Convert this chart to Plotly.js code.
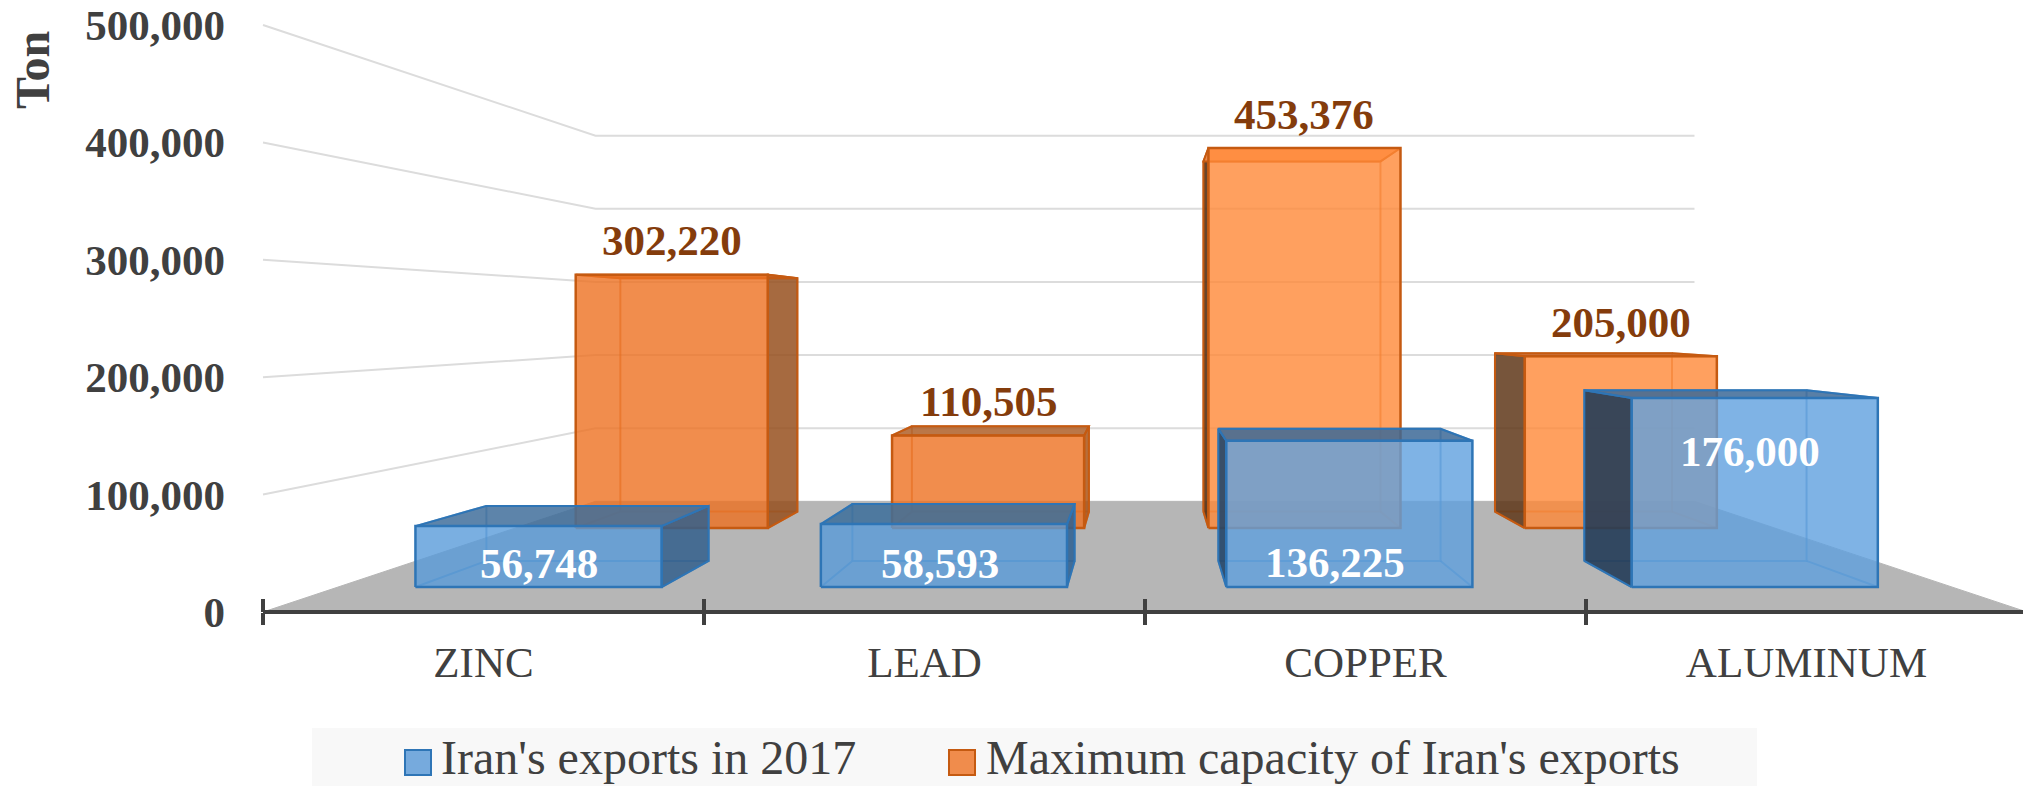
<!DOCTYPE html>
<html>
<head>
<meta charset="utf-8">
<script src="https://cdn.plot.ly/plotly-3.0.1.min.js"></script>
<style>html,body{margin:0;padding:0;background:#fff;overflow:hidden}</style>
</head>
<body>
<div id="chart" style="width:2023px;height:786px"></div>
<script>
const categories = ['ZINC', 'LEAD', 'COPPER', 'ALUMINUM'];
const exports2017 = [56748, 58593, 136225, 176000];
const maxCapacity = [302220, 110505, 453376, 205000];
const seriesNames = ["Iran's exports in 2017", "Maximum capacity of Iran's exports"];
const yTicks = [0, 100000, 200000, 300000, 400000, 500000];

const blueFace = ['rgba(89,155,217,.8)', 'rgba(89,155,217,.8)', 'rgba(95,160,222,.8)', 'rgba(95,160,222,.8)'];
const blueSide = ['rgba(50,95,140,.85)', 'rgba(45,95,145,.85)', 'rgba(35,70,105,.9)', 'rgba(35,60,88,.9)'];
const blueTop = ['rgba(65,110,155,.85)', 'rgba(60,110,155,.85)', 'rgba(60,105,150,.85)', 'rgba(60,105,150,.85)'];
const orangeFace = ['rgba(237,113,33,.8)', 'rgba(237,113,33,.8)', 'rgba(255,136,55,.8)', 'rgba(255,136,55,.8)'];
const orangeSide = ['rgba(150,80,30,.85)', 'rgba(170,85,25,.85)', 'rgba(90,50,20,.9)', 'rgba(95,55,25,.85)'];
const orangeTop = ['rgba(195,95,35,.85)', 'rgba(175,95,40,.85)', 'rgba(255,150,85,.85)', 'rgba(200,100,40,.85)'];
const blueLine = '#2E75B6', orangeLine = '#C55A11';
const blueLabelShiftX = [0, -4, -14, -5];
const blueLabelShiftY = [-24, -24, -25, -136];

// perspective: everything recedes to the point (vanishing x, vanishing y)
const vpX = 1.5, vpY = 250000, backS = 0.623;
const halfW = 0.305;
const frontRow = {near: 0.915, far: 0.826};
const backRow = {near: 0.714, far: 0.658};
const barPos = i => -0.003 + i * 1.0047;
const px = (x, s) => vpX + (x - vpX) * s;
const py = (v, s) => vpY + (v - vpY) * s;
const font = 'Liberation Serif, Times New Roman, serif';

const traces = [];
function poly(xs, ys, fillcolor, color, width) {
  traces.push({x: xs, y: ys, type: 'scatter', mode: 'lines', fill: fillcolor ? 'toself' : 'none',
    fillcolor: fillcolor || undefined, line: {color: color, width: width}, hoverinfo: 'skip', showlegend: false});
}

// walls
yTicks.filter(v => v > 0).forEach(v => {
  poly([-0.5, px(-0.5, backS), px(3.5, backS)], [v, py(v, backS), py(v, backS)], null, '#dcdcdc', 2);
});
// floor
poly([-0.5, px(-0.5, backS), px(3.5, backS), 3.5, -0.5], [0, py(0, backS), py(0, backS), 0, 0], '#b6b6b6', '#b6b6b6', 1);

function box(i, v, row, face, side, top, line, hidden) {
  const c = barPos(i), xl = c - halfW, xr = c + halfW, n = row.near, f = row.far;
  const rightVisible = c < vpX;
  const xv = rightVisible ? xr : xl, xh = rightVisible ? xl : xr;
  // hidden edges seen through the bar
  poly([px(xl, f), px(xr, f), px(xr, f), px(xl, f), px(xl, f), null, px(xl, n), px(xl, f), null, px(xr, n), px(xr, f), null, px(xh, n), px(xh, f)],
       [py(0, f), py(0, f), py(v, f), py(v, f), py(0, f), null, py(0, n), py(0, f), null, py(0, n), py(0, f), null, py(v, n), py(v, f)],
       null, hidden, 2);
  // side
  poly([px(xv, n), px(xv, f), px(xv, f), px(xv, n), px(xv, n)], [py(0, n), py(0, f), py(v, f), py(v, n), py(0, n)], side, line, 2);
  // top
  poly([px(xl, n), px(xr, n), px(xr, f), px(xl, f), px(xl, n)], [py(v, n), py(v, n), py(v, f), py(v, f), py(v, n)], top, line, 2);
  // front
  poly([px(xl, n), px(xr, n), px(xr, n), px(xl, n), px(xl, n)], [py(0, n), py(0, n), py(v, n), py(v, n), py(0, n)], face, line, 2.5);
}
maxCapacity.forEach((v, i) => box(i, v, backRow, orangeFace[i], orangeSide[i], orangeTop[i], orangeLine, 'rgba(197,90,17,.6)'));
exports2017.forEach((v, i) => box(i, v, frontRow, blueFace[i], blueSide[i], blueTop[i], blueLine, 'rgba(46,117,182,.6)'));

const fmt = v => v.toLocaleString('en-US');
const annotations = [];
maxCapacity.forEach((v, i) => annotations.push({
  x: px(barPos(i), backRow.near), y: py(v, backRow.near), xref: 'x', yref: 'y', text: fmt(v), showarrow: false, yshift: 34,
  xanchor: 'center', yanchor: 'middle', font: {family: font, size: 43, weight: 700, color: '#843C0C'}
}));
exports2017.forEach((v, i) => annotations.push({
  x: px(barPos(i), frontRow.near), y: py(0, frontRow.near), xref: 'x', yref: 'y', text: fmt(v), showarrow: false,
  xshift: blueLabelShiftX[i], yshift: -blueLabelShiftY[i],
  xanchor: 'center', yanchor: 'middle', font: {family: font, size: 43, weight: 700, color: '#ffffff'}
}));
const left = 254, plotW = 2023 - left, plotH = 612;
const paperX = p => (p - left) / plotW, paperY = p => 1 - p / plotH;
annotations.push({x: paperX(32), y: paperY(70), xref: 'paper', yref: 'paper', text: 'Ton', textangle: -90, showarrow: false,
  xanchor: 'center', yanchor: 'middle', font: {family: font, size: 48, weight: 700, color: '#404040'}});
annotations.push({x: paperX(439), y: paperY(757), xref: 'paper', yref: 'paper', text: seriesNames[0], showarrow: false,
  xanchor: 'left', yanchor: 'middle', font: {family: font, size: 48, color: '#404040'}});
annotations.push({x: paperX(984), y: paperY(757), xref: 'paper', yref: 'paper', text: seriesNames[1], showarrow: false,
  xanchor: 'left', yanchor: 'middle', font: {family: font, size: 48, color: '#404040'}});

const xRange = [-0.5 - (263 - left) / 441, -0.5 + (2023 - 263) / 441];
const boundaries = [-0.5, 0.5, 1.5, 2.5, 3.5];
const shapes = [
  {type: 'rect', xref: 'paper', yref: 'paper', x0: paperX(312), x1: paperX(1757), y0: paperY(728), y1: paperY(786), fillcolor: '#f8f8f8', line: {width: 0}, layer: 'below'},
  {type: 'rect', xref: 'paper', yref: 'paper', x0: paperX(405), x1: paperX(431), y0: paperY(750), y1: paperY(775), fillcolor: '#76aadd', line: {color: blueLine, width: 2}},
  {type: 'rect', xref: 'paper', yref: 'paper', x0: paperX(949), x1: paperX(975), y0: paperY(750), y1: paperY(775), fillcolor: '#f08c4c', line: {color: orangeLine, width: 2}},
  {type: 'line', xref: 'paper', yref: 'paper', x0: paperX(263), x1: 1, y0: 0, y1: 0, line: {color: '#404040', width: 4}, layer: 'above'}
];

const layout = {
  width: 2023, height: 786,
  margin: {l: left, r: 0, t: 0, b: 786 - plotH, pad: 0},
  paper_bgcolor: '#ffffff', plot_bgcolor: 'rgba(0,0,0,0)',
  showlegend: false,
  xaxis: {range: xRange, type: 'linear', tickmode: 'array', tickvals: boundaries, ticktext: boundaries.map(() => ''),
    ticks: 'outside', ticklen: 12, tickwidth: 3.5, tickcolor: '#404040', showgrid: false, zeroline: false,
    showline: false, layer: 'above traces'},
  xaxis2: {range: xRange, type: 'linear', overlaying: 'x', anchor: 'y', side: 'bottom', tickmode: 'array',
    tickvals: categories.map((c, i) => i), ticktext: categories, ticks: '', showgrid: false, zeroline: false, showline: false,
    ticklabelstandoff: 21, tickfont: {family: font, size: 43, color: '#404040'}},
  xaxis3: {range: xRange, type: 'linear', overlaying: 'x', anchor: 'y', side: 'bottom', tickmode: 'array',
    tickvals: boundaries, ticktext: boundaries.map(() => ''), ticks: 'inside', ticklen: 13, tickwidth: 3.5, tickcolor: '#404040',
    showgrid: false, zeroline: false, showline: false},
  yaxis: {range: [0, 500000 * plotH / 587], tickmode: 'array', tickvals: yTicks, ticktext: yTicks.map(fmt), ticks: '',
    showgrid: false, zeroline: false, showline: false, ticklabelstandoff: 28,
    tickfont: {family: font, size: 43, weight: 700, color: '#404040'}},
  annotations: annotations,
  shapes: shapes
};
// dummy traces so the overlaid axes are drawn
traces.push({x: [0], y: [0], xaxis: 'x2', type: 'scatter', mode: 'none', hoverinfo: 'skip', showlegend: false});
traces.push({x: [0], y: [0], xaxis: 'x3', type: 'scatter', mode: 'none', hoverinfo: 'skip', showlegend: false});
Plotly.newPlot('chart', traces, layout, {displayModeBar: false, staticPlot: true});
</script>
</body>
</html>
